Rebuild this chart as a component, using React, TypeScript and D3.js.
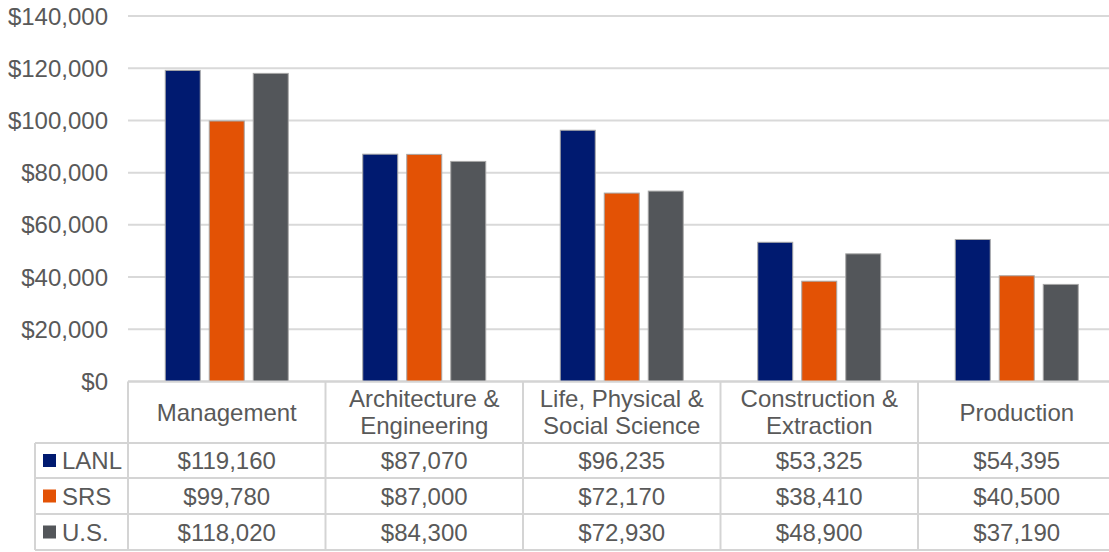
import React from "react";
import * as d3 from "d3";

const categories: string[][] = [
  ["Management"],
  ["Architecture &", "Engineering"],
  ["Life, Physical &", "Social Science"],
  ["Construction &", "Extraction"],
  ["Production"],
];
const seriesNames = ["LANL", "SRS", "U.S."];
const seriesColors = ["#001a70", "#e35205", "#53565a"];
const lanl = [119160, 87070, 96235, 53325, 54395];
const srs = [99780, 87000, 72170, 38410, 40500];
const us = [118020, 84300, 72930, 48900, 37190];
const seriesValues = [lanl, srs, us];
const yTicks = [0, 20000, 40000, 60000, 80000, 100000, 120000, 140000];

const W = 1109;
const H = 552;
const plotLeft = 128;
const plotRight = 1115.5;
const plotTop = 16;
const plotBottom = 381.5;
const headerBottom = 443;
const rowBottoms = [478, 514, 550];
const legendLeft = 35;
const textColor = "#595959";
const lineColor = "#d4d4d4";
const font = "'Liberation Sans', Arial, sans-serif";
const fs = 24;

export default function App() {
  const x = d3
    .scaleBand<number>()
    .domain(categories.map((_, i) => i))
    .range([plotLeft, plotRight]);
  const y = d3.scaleLinear().domain([0, 140000]).range([plotBottom, plotTop]);
  const barW = 35;
  const step = 44;
  const fmt = (v: number) => "$" + d3.format(",")(v);
  const rowTops = [headerBottom, rowBottoms[0], rowBottoms[1]];

  return (
    <svg
      width={W}
      height={H}
      style={{ position: "absolute", left: 0, top: 0, background: "#fff" }}
      fontFamily={font}
    >
      {yTicks.map((t) => (
        <line
          key={"g" + t}
          x1={plotLeft}
          x2={plotRight}
          y1={y(t)}
          y2={y(t)}
          stroke={t === 0 ? lineColor : "#d9d9d9"}
          strokeWidth={2}
        />
      ))}
      {yTicks.map((t) => (
        <text
          key={"yl" + t}
          x={108}
          y={y(t)}
          textAnchor="end"
          dominantBaseline="central"
          fontSize={fs}
          fill={textColor}
        >
          {fmt(t)}
        </text>
      ))}
      {seriesValues.map((vals, s) =>
        vals.map((v, i) => {
          const cx = (x(i) as number) + x.bandwidth() / 2 + (s - 1) * step;
          return (
            <rect
              key={"b" + s + "-" + i}
              x={cx - barW / 2}
              y={y(v)}
              width={barW}
              height={y(0) - y(v)}
              fill={seriesColors[s]}
              stroke="#a6a6a6"
              strokeWidth={1}
            />
          );
        })
      )}
      <line x1={plotLeft} x2={plotRight} y1={plotBottom} y2={plotBottom} stroke={lineColor} strokeWidth={2} />
      {[headerBottom, ...rowBottoms].map((yy, k) => (
        <line key={"h" + k} x1={legendLeft} x2={plotRight} y1={yy} y2={yy} stroke={lineColor} strokeWidth={2} />
      ))}
      <line x1={legendLeft} x2={legendLeft} y1={headerBottom} y2={rowBottoms[2]} stroke={lineColor} strokeWidth={2} />
      {categories.map((_, i) => (
        <line
          key={"v" + i}
          x1={x(i) as number}
          x2={x(i) as number}
          y1={plotBottom}
          y2={rowBottoms[2]}
          stroke={lineColor}
          strokeWidth={2}
        />
      ))}
      <line x1={plotRight} x2={plotRight} y1={plotBottom} y2={rowBottoms[2]} stroke={lineColor} strokeWidth={2} />
      {categories.map((lines, i) => {
        const cx = (x(i) as number) + x.bandwidth() / 2;
        const cy = (plotBottom + headerBottom) / 2;
        const lh = 27;
        return (
          <text key={"c" + i} textAnchor="middle" fontSize={fs} fill={textColor}>
            {lines.map((l, j) => (
              <tspan
                key={j}
                x={cx}
                y={cy + (j - (lines.length - 1) / 2) * lh}
                dominantBaseline="central"
              >
                {l}
              </tspan>
            ))}
          </text>
        );
      })}
      {seriesNames.map((name, s) => {
        const cy = (rowTops[s] + rowBottoms[s]) / 2;
        return (
          <g key={"r" + s}>
            <rect x={43} y={cy - 6.5} width={13} height={13} fill={seriesColors[s]} />
            <text x={62} y={cy} dominantBaseline="central" fontSize={fs} fill={textColor}>
              {name}
            </text>
            {seriesValues[s].map((v, i) => (
              <text
                key={i}
                x={(x(i) as number) + x.bandwidth() / 2}
                y={cy}
                textAnchor="middle"
                dominantBaseline="central"
                fontSize={fs}
                fill={textColor}
              >
                {fmt(v)}
              </text>
            ))}
          </g>
        );
      })}
    </svg>
  );
}
